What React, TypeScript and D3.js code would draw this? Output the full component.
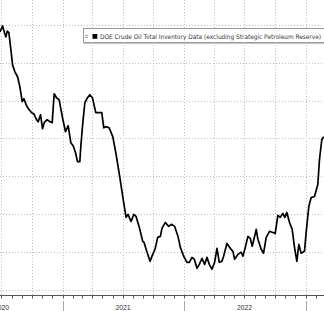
import React from 'react';
import * as d3 from 'd3';

const W = 324;
const H = 311;

const seriesName = 'DOE Crude Oil Total Inventory Data (excluding Strategic Petroleum Reserve)';

// weekly observations: days after the first report date, and inventory (million barrels)
const firstReport = [2020, 5, 27];
const dayOffsets = [
  0, 8, 14, 18, 22, 27, 33, 38, 45, 53, 60, 67, 72, 80, 88, 95, 102, 110, 115, 122,
  128, 133, 142, 150, 157, 163, 170, 178, 188, 197, 205, 213, 220, 227, 233, 240, 243,
  248, 255, 263, 270, 278, 288, 298, 306, 312, 318, 328, 339, 348, 358, 369, 379, 385,
  394, 402, 409, 418, 429, 433, 442, 451, 459, 466, 474, 482, 487,
  497, 507, 515, 525, 535, 542, 552, 562, 569, 577, 584, 592, 599, 607, 615, 622, 629,
  637, 645, 652, 659, 667, 672, 682, 692, 700, 705, 715, 725, 730,
  738, 745, 752, 758, 770, 775, 785, 792, 800, 810, 820, 827, 835, 842, 850, 856, 862,
  870, 878, 885, 892, 898, 905, 915, 920, 928, 935, 945, 955, 960, 967, 973,
];
const inventory = [
  536.3, 539.5, 535.8, 533.7, 536.8, 535.8, 526.8, 518.9, 515.2, 512.6, 507.3, 499.4, 501.0,
  497.3, 495.1, 493.6, 493.0, 489.9, 488.8, 492.5, 485.1, 488.3, 489.9, 488.8, 488.3, 503.6,
  501.5, 500.4, 490.9, 483.5, 486.7, 477.7, 476.1, 472.5, 467.7, 467.7, 475.6,
  486.2, 498.8, 501.5, 503.1, 501.5, 493.6, 493.6, 493.6, 485.6, 486.2, 485.6, 480.9, 472.5,
  461.9, 449.2, 438.2, 439.7, 436.0, 439.7, 438.7, 433.4, 425.5, 424.9, 419.7, 414.9, 418.6,
  421.3, 427.6, 428.1, 432.5,
  435.5, 433.4, 434.5, 433.4, 428.1, 422.3, 417.6, 414.4, 414.4, 417.0, 416.0, 411.2, 413.3,
  416.5, 413.3, 417.0, 413.3, 410.7, 414.4, 421.8, 414.4, 414.9, 417.6, 424.4, 421.8, 420.2,
  416.0, 418.6, 419.7, 417.6,
  422.9, 428.1, 427.1, 422.9, 431.8, 426.6, 421.3, 419.2, 427.6, 430.8, 430.2, 429.7, 439.2,
  438.2, 440.3, 438.2, 440.8, 435.5, 431.8, 422.3, 414.9, 423.9, 419.2, 420.2, 430.2, 444.0,
  448.7, 449.2, 455.6, 468.8, 479.3, 480.9,
];

const yGridValues = [400, 420, 440, 460, 480, 500, 520, 540];
const yearLabels = ['2020', '2021', '2022'];
const yearStarts = ['2021', '2022', '2023'];

export default function App() {
  const x = d3
    .scaleTime()
    .domain([new Date(2021, 0, 1), new Date(2023, 0, 1)])
    .range([62.5, 305.5]);
  const y = d3.scaleLinear().domain([400, 540]).range([289.5, 25]);

  const start = new Date(firstReport[0], firstReport[1], firstReport[2]);
  const data = dayOffsets.map((d, i) => ({ date: d3.timeDay.offset(start, d), value: inventory[i] }));

  const line = d3
    .line<{ date: Date; value: number }>()
    .x((d) => x(d.date))
    .y((d) => y(d.value));

  const quarters = d3.timeMonth.every(3)!.range(new Date(2020, 0, 1), new Date(2023, 6, 1))
    .filter((d) => x(d) >= -1 && x(d) <= W + 1);
  const months = d3.timeMonth.range(new Date(2020, 0, 1), new Date(2023, 6, 1))
    .filter((d) => x(d) >= -1 && x(d) <= W + 1);

  const axisY = 295.5;
  const font = 'Liberation Sans, Arial, sans-serif';

  return (
    <svg
      width={W}
      height={H}
      style={{ position: 'absolute', left: 0, top: 0, background: '#fff' }}
    >
      <rect x={0} y={0} width={W} height={H} fill="#fff" />
      {yGridValues.map((v) => (
        <line
          key={'h' + v}
          x1={0}
          x2={W}
          y1={Math.round(y(v)) + 0.5}
          y2={Math.round(y(v)) + 0.5}
          stroke="#bdbdbd"
          strokeWidth={1}
          strokeDasharray="1,2"
        />
      ))}
      {quarters.map((d) => (
        <line
          key={'v' + d.getTime()}
          x1={Math.round(x(d)) + 0.5}
          x2={Math.round(x(d)) + 0.5}
          y1={0}
          y2={axisY}
          stroke="#bdbdbd"
          strokeWidth={1}
          strokeDasharray="1,2"
        />
      ))}
      <line x1={0} x2={W} y1={axisY} y2={axisY} stroke="#555" strokeWidth={1} />
      {months.map((d) => (
        <line
          key={'m' + d.getTime()}
          x1={Math.round(x(d)) + 0.5}
          x2={Math.round(x(d)) + 0.5}
          y1={axisY}
          y2={axisY + 3}
          stroke="#555"
          strokeWidth={1}
        />
      ))}
      {yearStarts.map((ys) => {
        const xx = Math.round(x(new Date(+ys, 0, 1))) + 0.5;
        return <line key={'y' + ys} x1={xx} x2={xx} y1={301} y2={311} stroke="#aaa" strokeWidth={1} />;
      })}
      {yearLabels.map((yl) => (
        <text
          key={'l' + yl}
          x={x(new Date(+yl, 6, 2))}
          y={309.5}
          textAnchor="middle"
          fontFamily={font}
          fontSize={6.8}
          fill="#333"
        >
          {yl}
        </text>
      ))}
      <path d={line(data) || ''} fill="none" stroke="#000" strokeWidth={1.7} strokeLinejoin="round" />
      <g>
        <rect x={83.5} y={28.5} width={245} height={14} fill="#fff" stroke="#9a9a9a" strokeWidth={1} />
        <line x1={84} x2={W} y1={43.5} y2={43.5} stroke="#c4c4c4" strokeWidth={1} />
        <line x1={85} x2={88} y1={35.5} y2={35.5} stroke="#888" strokeWidth={0.8} />
        <line x1={85} x2={88} y1={37.5} y2={37.5} stroke="#888" strokeWidth={0.8} />
        <rect x={92.5} y={34} width={4.8} height={4.8} fill="#000" />
        <text
          x={100}
          y={39.2}
          fontFamily="DejaVu Sans, sans-serif"
          fontSize={6.3}
          fill="#333"
          textLength={221}
          lengthAdjust="spacingAndGlyphs"
        >
          {seriesName}
        </text>
      </g>
    </svg>
  );
}
